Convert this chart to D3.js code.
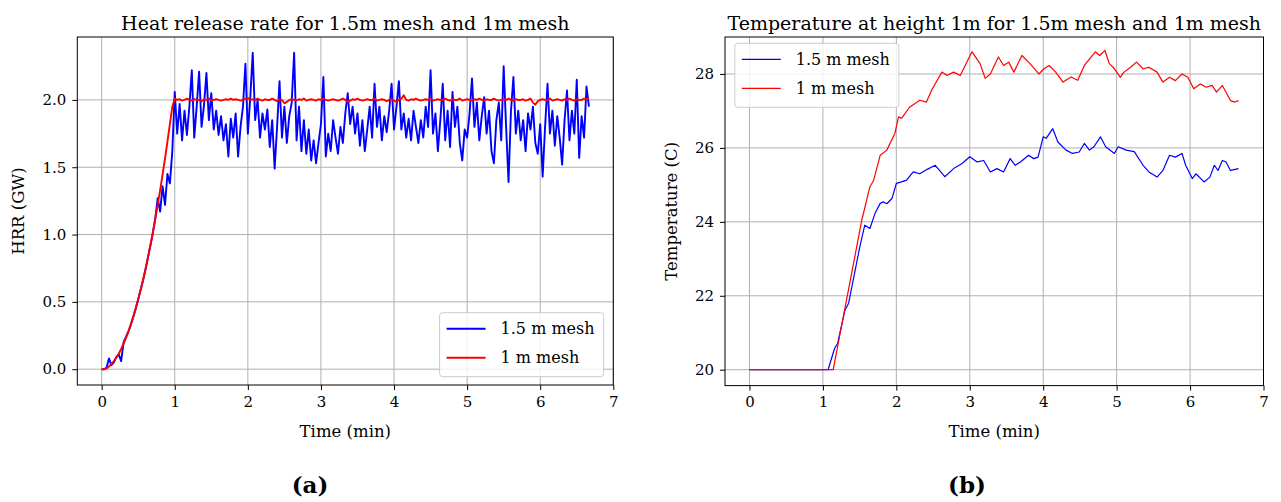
<!DOCTYPE html>
<html>
<head>
<meta charset="utf-8">
<script src="https://cdnjs.cloudflare.com/ajax/libs/d3/7.8.5/d3.min.js"></script>
<style>
  body { margin: 0; background: #fff; }
  svg { display: block; font-family: "DejaVu Serif", serif; }
</style>
</head>
<body>
<svg width="1281" height="502"></svg>
<script>
// HRR records are sampled every 2 s (in minutes)
var hrrStep = 1 / 30;

// HRR (GW), 1.5 m mesh
var hrrCoarse = [
  0, 0, 0.01, 0.08, 0.03, 0.05, 0.09, 0.11, 0.06, 0.2,
  0.24, 0.28, 0.33, 0.39, 0.45, 0.52, 0.59, 0.66, 0.74, 0.83,
  0.92, 1.01, 1.12, 1.27, 1.17, 1.36, 1.22, 1.45, 1.38, 1.62, 2.06,
  1.75, 1.97, 1.70, 1.92, 1.74, 1.95, 2.22, 1.72, 1.95, 2.21,
  1.80, 1.96, 2.20, 1.85, 2.05, 1.78, 1.92, 1.74, 1.88, 1.70,
  1.82, 1.58, 1.86, 1.72, 1.90, 1.58, 1.80, 1.95, 2.27, 1.75,
  2.02, 2.35, 1.85, 2.00, 1.72, 1.90, 1.78, 1.93, 1.65, 1.85,
  1.49, 1.80, 2.14, 1.72, 1.95, 1.68, 1.88, 1.98, 2.35, 1.70,
  1.95, 1.62, 1.85, 1.60, 1.78, 1.55, 1.70, 1.53, 1.68, 1.82,
  2.17, 1.58, 1.75, 1.62, 1.85, 1.72, 1.60, 1.80, 1.68, 1.90,
  2.05, 1.82, 1.95, 1.75, 1.90, 1.66, 1.85, 1.62, 1.78, 1.95,
  1.72, 2.12, 1.80, 1.95, 1.70, 1.88, 1.76, 1.92, 2.12, 1.78,
  1.95, 2.14, 1.78, 1.90, 1.72, 1.86, 1.70, 1.92, 1.80, 1.68,
  1.85, 1.72, 1.95, 1.80, 2.22, 1.75, 1.90, 1.62, 1.85, 2.12,
  1.70, 1.92, 1.65, 2.06, 1.80, 1.95, 1.68, 1.55, 1.78, 1.72,
  1.90, 2.16, 1.80, 1.98, 1.70, 1.88, 2.02, 1.75, 1.92, 1.62,
  1.53, 1.85, 1.98, 1.70, 2.25, 1.80, 1.39, 1.92, 2.17, 1.75,
  1.92, 1.70, 1.85, 1.62, 1.90, 1.78, 1.95, 1.68, 1.60, 1.82,
  1.43, 1.80, 2.12, 1.75, 1.92, 1.66, 1.88, 1.72, 1.52, 1.85,
  2.07, 1.70, 1.92, 1.75, 2.15, 1.57, 1.88, 1.72, 2.10, 1.95
];

// HRR (GW), 1 m mesh
var hrrFine = [
  0, 0, 0.005, 0.02, 0.038, 0.06, 0.085, 0.115, 0.15, 0.19,
  0.235, 0.283, 0.335, 0.392, 0.455, 0.52, 0.59, 0.665, 0.745, 0.83,
  0.92, 1.015, 1.115, 1.22, 1.33, 1.445, 1.565, 1.69, 1.82, 1.95, 2.01,
  2.0, 2.005, 1.995, 2.0, 2.01, 2.0, 1.995, 2.005, 2.0, 2.0,
  1.99, 2.005, 2.0, 2.01, 1.995, 2.0, 2.005, 2.0, 1.995, 2.0,
  2.005, 2.0, 2.01, 2.0, 2.005, 2.0, 1.995, 2.0, 2.01, 2.015,
  2.0, 2.005, 2.0, 2.01, 2.0, 1.995, 2.005, 2.0, 2.0, 2.01,
  2.0, 1.99, 2.005, 2.0, 1.975, 1.985, 2.0, 2.005, 2.0, 1.995,
  2.005, 2.0, 2.01, 1.995, 2.0, 2.005, 2.0, 1.995, 2.005, 2.0,
  2.01, 2.0, 1.995, 2.0, 2.005, 2.0, 1.995, 2.0, 2.01, 2.0,
  1.985, 1.995, 2.005, 2.0, 2.01, 2.0, 1.995, 2.0, 2.005, 2.0,
  2.0, 2.01, 1.995, 2.0, 2.005, 2.0, 1.99, 2.0, 2.005, 1.995,
  1.985, 2.0, 2.01, 2.035, 2.0, 1.995, 2.005, 2.0, 2.01, 2.0,
  1.995, 2.0, 2.005, 2.0, 2.01, 1.995, 2.0, 2.005, 2.0, 2.0,
  2.01, 2.0, 1.995, 2.005, 2.0, 2.0, 2.01, 1.995, 2.0, 2.005,
  2.0, 1.995, 2.005, 2.0, 2.01, 2.0, 1.995, 2.005, 2.0, 2.0,
  2.01, 2.0, 1.995, 2.0, 2.005, 2.0, 2.01, 2.0, 1.995, 2.005,
  2.0, 2.0, 2.005, 1.995, 2.0, 2.01, 1.98, 1.965, 1.99, 2.0,
  2.005, 2.0, 2.0, 2.01, 1.995, 2.0, 2.005, 2.0, 1.995, 2.005,
  2.0, 2.01, 2.0, 1.995, 2.005, 2.0, 2.0, 2.01, 2.005, 2.01
];

// temperature at 1 m (C), 1.5 m mesh
var tempTimeCoarse = [0, 1.07, 1.16, 1.20, 1.30, 1.35, 1.42, 1.50, 1.57, 1.64,
  1.71, 1.78, 1.82, 1.87, 1.94, 2.00, 2.07, 2.14, 2.23, 2.32,
  2.42, 2.53, 2.66, 2.78, 2.89, 3.00, 3.10, 3.19, 3.28, 3.37,
  3.46, 3.55, 3.62, 3.69, 3.80, 3.87, 3.93, 4.00, 4.04, 4.13,
  4.20, 4.31, 4.40, 4.49, 4.56, 4.63, 4.69, 4.78, 4.85, 4.97,
  5.02, 5.13, 5.24, 5.36, 5.44, 5.55, 5.63, 5.72, 5.80, 5.89,
  5.94, 6.03, 6.08, 6.19, 6.27, 6.33, 6.38, 6.44, 6.49, 6.55,
  6.66];
var tempCoarse = [20, 20, 20.58, 20.71, 21.61, 21.8, 22.5, 23.3, 23.91, 23.82,
  24.23, 24.5, 24.54, 24.49, 24.63, 25.04, 25.08, 25.13, 25.35, 25.3,
  25.42, 25.53, 25.22, 25.44, 25.57, 25.76, 25.62, 25.66, 25.35, 25.44,
  25.35, 25.71, 25.53, 25.62, 25.8, 25.71, 25.75, 26.3, 26.26, 26.52,
  26.16, 25.94, 25.85, 25.89, 26.12, 25.94, 26.03, 26.3, 26.03, 25.85,
  26.03, 25.94, 25.9, 25.53, 25.35, 25.21, 25.39, 25.8, 25.75, 25.85,
  25.53, 25.17, 25.3, 25.08, 25.21, 25.53, 25.39, 25.66, 25.62, 25.39,
  25.44];

// temperature at 1 m (C), 1 m mesh
var tempTimeFine = [0, 1.14, 1.53, 1.64, 1.69, 1.78, 1.87, 1.98, 2.03, 2.07,
  2.18, 2.32, 2.41, 2.48, 2.62, 2.69, 2.78, 2.87, 3.03, 3.14,
  3.21, 3.28, 3.39, 3.46, 3.53, 3.60, 3.71, 3.82, 3.94, 4.01,
  4.08, 4.17, 4.27, 4.38, 4.47, 4.56, 4.71, 4.77, 4.84, 4.90,
  4.97, 5.05, 5.10, 5.19, 5.27, 5.36, 5.44, 5.55, 5.63, 5.72,
  5.80, 5.89, 5.97, 6.05, 6.14, 6.22, 6.30, 6.36, 6.44, 6.55,
  6.61, 6.66];
var tempFine = [20, 20, 24.05, 24.95, 25.12, 25.8, 25.94, 26.39, 26.84, 26.8,
  27.1, 27.29, 27.24, 27.56, 28.05, 27.96, 28.05, 27.96, 28.6, 28.28,
  27.88, 28.0, 28.46, 28.23, 28.32, 28.05, 28.5, 28.28, 28.0, 28.14,
  28.23, 28.05, 27.78, 27.92, 27.83, 28.23, 28.6, 28.5, 28.64, 28.28,
  28.14, 27.91, 28.05, 28.18, 28.32, 28.14, 28.18, 28.05, 27.78, 27.91,
  27.82, 28.0, 27.91, 27.6, 27.73, 27.64, 27.69, 27.51, 27.69, 27.28,
  27.24, 27.28];

var xTicks = [0, 1, 2, 3, 4, 5, 6, 7];
var hrrTicks = [0, 0.5, 1.0, 1.5, 2.0];
var tempTicks = [20, 22, 24, 26, 28];
var seriesNames = ["1.5 m mesh", "1 m mesh"];
var seriesColors = ["#0000ff", "#ff0000"];

var svg = d3.select("svg");

function panel(o) {
  var g = svg.append("g");
  var x = d3.scaleLinear().domain([-1 / 3, 7]).range([o.left, o.right]);
  var y = d3.scaleLinear().domain(o.yDomain).range([o.bottom, o.top]);

  // grid
  g.append("g").selectAll("line").data(xTicks).join("line")
    .attr("x1", d => x(d)).attr("x2", d => x(d))
    .attr("y1", o.top).attr("y2", o.bottom)
    .attr("stroke", "#b0b0b0").attr("stroke-width", 1);
  g.append("g").selectAll("line").data(o.yTicks).join("line")
    .attr("x1", o.left).attr("x2", o.right)
    .attr("y1", d => y(d)).attr("y2", d => y(d))
    .attr("stroke", "#b0b0b0").attr("stroke-width", 1);

  // series
  o.series.forEach(function(s, k) {
    var line = d3.line()
      .x((d, i) => x(s.t(i)))
      .y(d => y(d));
    g.append("path").datum(s.v)
      .attr("fill", "none")
      .attr("stroke", seriesColors[k])
      .attr("stroke-width", o.lw)
      .attr("stroke-linejoin", "round")
      .attr("d", line);
  });

  // frame
  g.append("rect")
    .attr("x", o.left).attr("y", o.top)
    .attr("width", o.right - o.left).attr("height", o.bottom - o.top)
    .attr("fill", "none").attr("stroke", "#000").attr("stroke-width", 1);

  // axes
  var ax = g.append("g").attr("transform", "translate(0," + o.bottom + ")")
    .call(d3.axisBottom(x).tickValues(xTicks).tickSize(5).tickSizeOuter(0).tickPadding(6));
  var ay = g.append("g").attr("transform", "translate(" + o.left + ",0)")
    .call(d3.axisLeft(y).tickValues(o.yTicks).tickFormat(o.fmt).tickSize(5).tickSizeOuter(0).tickPadding(6));
  [ax, ay].forEach(function(a) {
    a.select(".domain").remove();
    a.selectAll("text").attr("font-family", "DejaVu Serif").attr("font-size", 15).attr("fill", "#000");
  });

  // title and labels
  g.append("text").attr("x", (o.left + o.right) / 2).attr("y", 30)
    .attr("text-anchor", "middle").attr("font-size", 19).text(o.title);
  g.append("text").attr("x", (o.left + o.right) / 2).attr("y", 437)
    .attr("text-anchor", "middle").attr("font-size", 16.5).text("Time (min)");
  g.append("text")
    .attr("transform", "translate(" + o.ylabX + "," + (o.top + o.bottom) / 2 + ") rotate(-90)")
    .attr("text-anchor", "middle").attr("font-size", 16.5).text(o.ylabel);

  // legend
  var lg = g.append("g").attr("transform", "translate(" + o.legX + "," + o.legY + ")");
  lg.append("rect").attr("width", 164).attr("height", 64).attr("rx", 3)
    .attr("fill", "#fff").attr("fill-opacity", 0.8)
    .attr("stroke", "#cccccc").attr("stroke-width", 1);
  seriesNames.forEach(function(name, k) {
    var yy = 16 + k * 29;
    lg.append("line").attr("x1", 7).attr("x2", 46).attr("y1", yy).attr("y2", yy)
      .attr("stroke", seriesColors[k]).attr("stroke-width", o.lw);
    lg.append("text").attr("x", 61).attr("y", yy).attr("dy", "0.35em")
      .attr("font-size", 16).text(name);
  });
}

panel({
  left: 77.3, right: 613.3, top: 37, bottom: 385,
  yDomain: [-0.1175, 2.4675], yTicks: hrrTicks, fmt: d3.format(".1f"),
  title: "Heat release rate for 1.5m mesh and 1m mesh",
  ylabel: "HRR (GW)", ylabX: 24,
  legX: 439.6, legY: 312.7, lw: 1.9,
  series: [
    { v: hrrCoarse, t: i => i * hrrStep },
    { v: hrrFine, t: i => i * hrrStep }
  ]
});

panel({
  left: 725, right: 1263.5, top: 37, bottom: 385.6,
  yDomain: [19.57, 29.0], yTicks: tempTicks, fmt: d3.format("d"),
  title: "Temperature at height 1m for 1.5m mesh and 1m mesh",
  ylabel: "Temperature (C)", ylabX: 677,
  legX: 734.8, legY: 43.3, lw: 1.2,
  series: [
    { v: tempCoarse, t: i => tempTimeCoarse[i] },
    { v: tempFine, t: i => tempTimeFine[i] }
  ]
});

// sub-figure captions
svg.append("text").attr("x", 310).attr("y", 493).attr("text-anchor", "middle")
  .attr("font-size", 23).attr("font-weight", "bold").text("(a)");
svg.append("text").attr("x", 967).attr("y", 493).attr("text-anchor", "middle")
  .attr("font-size", 23).attr("font-weight", "bold").text("(b)");
</script>
</body>
</html>
